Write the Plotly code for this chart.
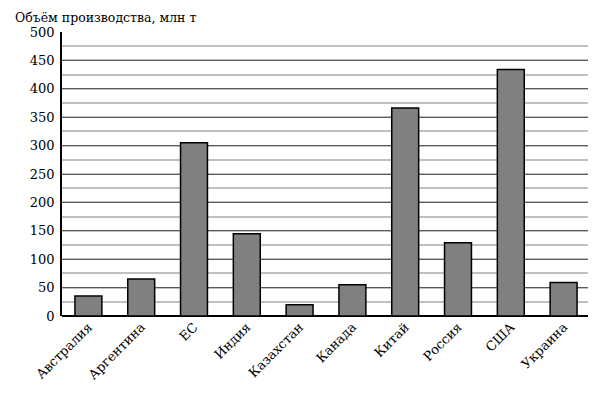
import plotly.graph_objects as go

# production volume by country, mln t
countries = ["Австралия", "Аргентина", "ЕС", "Индия", "Казахстан",
             "Канада", "Китай", "Россия", "США", "Украина"]
volumes = [35, 65, 305, 145, 20, 55, 366, 129, 434, 59]

y_ticks = [0, 50, 100, 150, 200, 250, 300, 350, 400, 450, 500]

FONT = "DejaVu Serif, serif"

# the page body has an 8px margin, so the figure is sized to compensate
fig = go.Figure()

fig.add_trace(go.Bar(
    x=countries,
    y=volumes,
    marker=dict(color="#808080", line=dict(color="#000000", width=1.5)),
    width=0.51,
))

fig.update_layout(
    width=588,
    height=393,
    paper_bgcolor="white",
    plot_bgcolor="white",
    margin=dict(l=54, r=6, t=24, b=85),
    showlegend=False,
    font=dict(family=FONT, size=13, color="#000000"),
    title=dict(
        text="Объём производства, млн т",
        x=7 / 588, xanchor="left",
        y=1 - 10 / 393, yanchor="middle",
        yref="container", xref="container",
        font=dict(family=FONT, size=12.5, color="#000000"),
    ),
    xaxis=dict(
        tickangle=-45,
        showgrid=False,
        showline=False,
        ticks="",
        tickfont=dict(family=FONT, size=13),
        range=[-0.5, 9.5],
    ),
    yaxis=dict(
        range=[0, 500],
        tickvals=y_ticks,
        showgrid=True,
        gridcolor="#5a5a5a",
        gridwidth=1,
        minor=dict(dtick=25, showgrid=True, gridcolor="#c0c0c0", gridwidth=1.5),
        showline=True,
        linecolor="#000000",
        linewidth=1.5,
        zeroline=True,
        zerolinecolor="#000000",
        zerolinewidth=1.5,
        ticks="",
        ticklabelstandoff=3,
        tickfont=dict(family=FONT, size=13),
    ),
)

fig.write_html("out.html")
